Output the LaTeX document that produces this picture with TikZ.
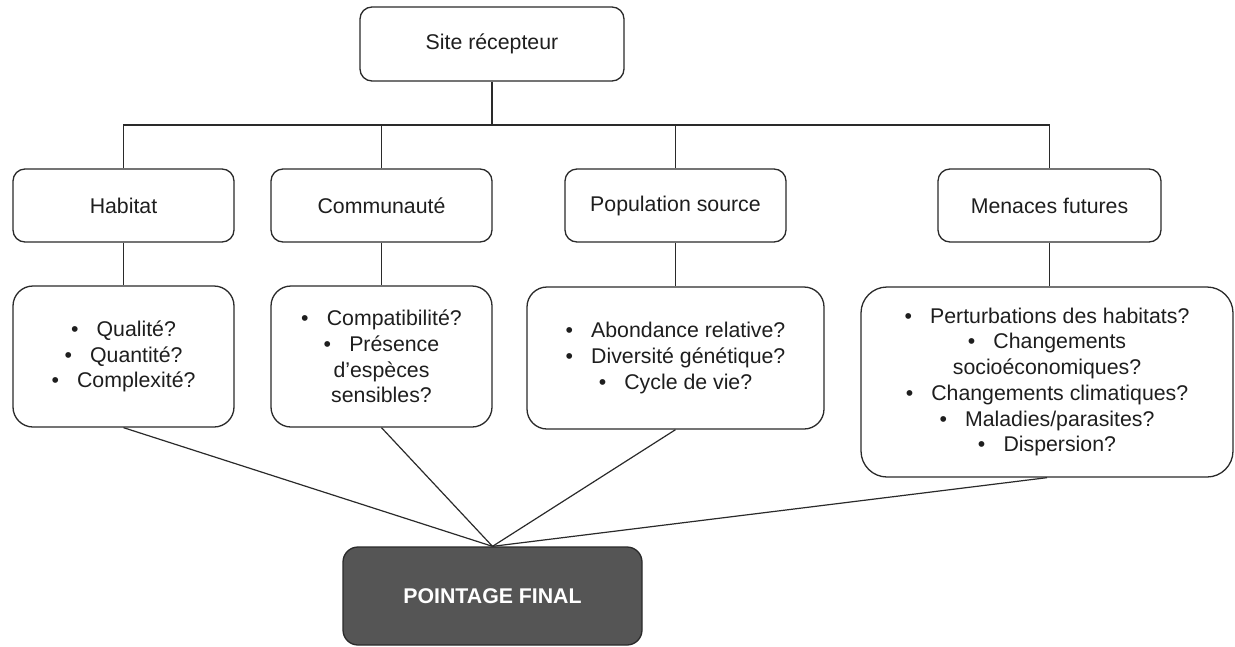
\documentclass[tikz,border=0pt]{standalone}
\usepackage{fontspec}
\setmainfont{Liberation Sans}
\definecolor{ink}{HTML}{1E1E1E}
\definecolor{edge}{HTML}{2A2A2A}
\definecolor{finalfill}{HTML}{555555}
\newcommand\itm{•\hspace{0.85em}}
\tikzset{
  box/.style={draw=edge, line width=1.3pt, rounded corners=12pt, fill=white,
    text=ink, align=center, inner sep=0pt,
    font=\fontsize{21.3}{25.7}\selectfont},
  listbox/.style={box, rounded corners=20pt},
  finalbox/.style={draw=edge, line width=1.3pt, rounded corners=15pt, fill=finalfill,
    text=white, align=center, inner sep=0pt,
    font=\fontsize{21.3}{25.7}\selectfont\bfseries},
  link/.style={draw=edge, line width=1.2pt},
  trunk/.style={draw=edge, line width=2pt}
}
\begin{document}
\begin{tikzpicture}[x=1pt,y=-1pt]
\useasboundingbox (0,0) rectangle (1235,646);
% top
\node[box, minimum width=264pt, minimum height=74pt] (top) at (492,44) {Site récepteur};
% categories
\node[box, minimum width=221pt, minimum height=73pt] (hab) at (123.5,205.5) {Habitat};
\node[box, minimum width=221pt, minimum height=73pt] (com) at (381.5,205.5) {Communauté};
\node[box, minimum width=221pt, minimum height=73pt] (pop) at (675.5,205.5) {Population source};
\node[box, minimum width=223pt, minimum height=73pt] (men) at (1049.5,205.5) {Menaces futures};
% lists
\node[listbox, minimum width=221pt, minimum height=141pt] (lhab) at (123.5,356.5)
  {\itm Qualité?\\ \itm Quantité?\\ \itm Complexité?};
\node[listbox, minimum width=221pt, minimum height=141pt] (lcom) at (381.5,356.5)
  {\itm Compatibilité?\\ \itm Présence\\ d'espèces\\ sensibles?};
\node[listbox, minimum width=297pt, minimum height=142pt] (lpop) at (675.5,358)
  {\itm Abondance relative?\\ \itm Diversité génétique?\\ \itm Cycle de vie?};
\node[listbox, rounded corners=26pt, minimum width=372pt, minimum height=190pt] (lmen) at (1047,382)
  {\itm Perturbations des habitats?\\ \itm Changements\\ socioéconomiques?\\ \itm Changements climatiques?\\ \itm Maladies/parasites?\\ \itm Dispersion?};
% final
\node[finalbox, minimum width=299pt, minimum height=98pt] (final) at (492.5,596) {POINTAGE FINAL};
% connectors
\coordinate (bus) at (492,125);
\draw[trunk] (top.south) -- (bus);
\draw[link] (hab.north) -- (hab.north |- bus) -- (men.north |- bus) -- (men.north);
\draw[link] (com.north) -- (com.north |- bus);
\draw[link] (pop.north) -- (pop.north |- bus);
\draw[link] (hab.south) -- (lhab.north);
\draw[link] (com.south) -- (lcom.north);
\draw[link] (pop.south) -- (lpop.north);
\draw[link] (men.south) -- (men.south |- lmen.north);
\draw[link] (lhab.south) -- (final.north);
\draw[link] (lcom.south) -- (final.north);
\draw[link] (lpop.south) -- (final.north);
\draw[link] (lmen.south) -- (final.north);
\end{tikzpicture}
\end{document}
